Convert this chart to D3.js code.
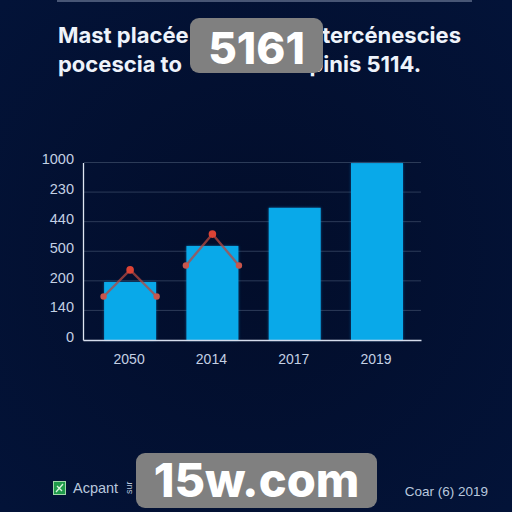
<!DOCTYPE html>
<html><head><meta charset="utf-8">
<script src="https://cdn.jsdelivr.net/npm/d3@7/dist/d3.min.js"></script>
<style>html,body{margin:0;padding:0;background:#021136;}svg{display:block}</style>
</head><body><svg id="c" width="512" height="512"></svg>
<script>
const categories = ["2050","2014","2017","2019"];
const yTickLabels = ["0","140","200","500","440","230","1000"];
const barValues = [1.96,3.18,4.47,5.98];
const lineOffsets = [-0.51,0,0.51];
const lineA = [1.47,2.37,1.47];
const lineB = [2.52,3.58,2.52];
const titleLeft = ["Mast placée","pocescia to"];
const titleRight = ["tercénescies","pinis 5114."];

const svg = d3.select("#c");
const defs = svg.append("defs");
const bg = defs.append("radialGradient").attr("id","bg").attr("cx","50%").attr("cy","50%").attr("r","70%");
bg.append("stop").attr("offset","0%").attr("stop-color","#020d2a");
bg.append("stop").attr("offset","100%").attr("stop-color","#031338");
const glow = defs.append("filter").attr("id","soft").attr("x","-10%").attr("y","-10%").attr("width","120%").attr("height","120%");
glow.append("feGaussianBlur").attr("stdDeviation",1.6);
svg.append("rect").attr("width",512).attr("height",512).attr("fill","url(#bg)");
svg.append("line").attr("x1",57).attr("x2",472).attr("y1",1).attr("y2",1).attr("stroke","#8e9ab5").attr("stroke-width",1);

const x = d3.scaleBand().domain(categories).range([83,421]).paddingInner(0.368).paddingOuter(0.2375).align(0.54);
const y = d3.scaleLinear().domain([0,6]).range([340,162.5]);

// grid
svg.append("g").selectAll("line").data(d3.range(1,7)).join("line")
  .attr("x1",84).attr("x2",421).attr("y1",d=>y(d)).attr("y2",d=>y(d))
  .attr("stroke","#2c3b58").attr("stroke-width",1);

// bars
svg.append("g").selectAll("rect.g").data(barValues).join("rect")
  .attr("x",(d,i)=>x(categories[i])).attr("y",d=>y(d))
  .attr("width",x.bandwidth()).attr("height",d=>y(0)-y(d))
  .attr("fill","#1e7fc0").attr("opacity",.55).attr("filter","url(#soft)");
svg.append("g").selectAll("rect.b").data(barValues).join("rect")
  .attr("x",(d,i)=>x(categories[i])).attr("y",d=>y(d))
  .attr("width",x.bandwidth()).attr("height",d=>y(0)-y(d))
  .attr("fill","#09a9e9");

// axes
const yAxis = d3.axisLeft(y).tickValues(d3.range(0,7)).tickSize(0).tickPadding(9).tickFormat(d=>yTickLabels[d]);
const gy = svg.append("g").attr("transform","translate(83,0)").call(yAxis);
gy.select(".domain").attr("stroke","#dfe6f2").attr("stroke-width",1.3);
gy.selectAll("text").attr("font-family","'Liberation Sans', sans-serif").attr("font-size",14.5).attr("dy","0.1em").attr("fill","#c4d0e4");
const xAxis = d3.axisBottom(x).tickSize(0).tickPadding(14);
const gx = svg.append("g").attr("transform","translate(0,340)").call(xAxis);
gx.select(".domain").attr("stroke","#d5dcec").attr("stroke-width",1.5);
gx.selectAll("text").attr("font-family","'Liberation Sans', sans-serif").attr("font-size",14).attr("dx",-1).attr("fill","#c4d0e4");

// lines
const pos = (i,o)=>x(categories[i])+x.bandwidth()/2+o*x.bandwidth();
[lineA,lineB].forEach((vals,i)=>{
  const l = d3.line().x((d,j)=>pos(i,lineOffsets[j])).y(d=>y(d));
  svg.append("path").attr("d",l(vals)).attr("fill","none").attr("stroke","#b8483f").attr("stroke-width",2.4).attr("opacity",.75);
  svg.append("g").selectAll("circle").data(vals).join("circle")
    .attr("cx",(d,j)=>pos(i,lineOffsets[j])).attr("cy",d=>y(d))
    .attr("r",(d,j)=>j===1?3.8:3.2).attr("fill",(d,j)=>j===1?"#dc4335":"#c9564c");
});

// title
const title = svg.append("g").attr("font-family","Inter, 'Open Sans', sans-serif").attr("font-weight",700).attr("font-size",22).attr("fill","#eef3fb");
title.selectAll("text.l").data(titleLeft).join("text").attr("x",58).attr("y",(d,i)=>43+i*29).text(d=>d);
title.selectAll("text.r").data(titleRight).join("text").attr("x",(d,i)=>i===0?461:421).attr("y",(d,i)=>43+i*29).attr("text-anchor","end").text(d=>d);

// footer
svg.append("rect").attr("x",53.5).attr("y",481.5).attr("width",12).attr("height",13).attr("fill","#1f9a4a").attr("stroke","#9fd8a8");
svg.append("path").attr("d","M56 492L63 484M57 486L62 491").attr("stroke","#d9f2dc").attr("stroke-width",1.3);
svg.append("text").attr("x",73).attr("y",493).attr("font-family","'Liberation Sans', sans-serif").attr("font-size",14.5).attr("fill","#b9c8de").text("Acpant");
svg.append("text").attr("transform","translate(132,494) rotate(-90)").attr("font-family","'Liberation Sans', sans-serif").attr("font-size",9).attr("fill","#b9c8de").text("sur");
svg.append("text").attr("x",488).attr("y",496).attr("text-anchor","end").attr("font-family","'Liberation Sans', sans-serif").attr("font-size",13.5).attr("fill","#b9c8de").text("Coar (6) 2019");

// badges
const badges = [{t:"5161",x0:190,y0:18,x1:323,y1:73,s:44,dy:18},{t:"15w.com",x0:136,y0:453,x1:377,y1:508,s:47,dy:16}];
svg.append("g").selectAll("rect").data(badges).join("rect")
  .attr("x",d=>d.x0).attr("y",d=>d.y0).attr("width",d=>d.x1-d.x0).attr("height",d=>d.y1-d.y0).attr("rx",9).attr("fill","#808080");
svg.append("g").selectAll("text").data(badges).join("text")
  .attr("x",d=>(d.x0+d.x1)/2).attr("y",d=>(d.y0+d.y1)/2+d.dy).attr("text-anchor","middle")
  .attr("font-family","Inter, 'Open Sans', sans-serif").attr("font-weight",800).attr("font-size",d=>d.s).attr("fill","#fff").text(d=>d.t);
</script></body></html>
